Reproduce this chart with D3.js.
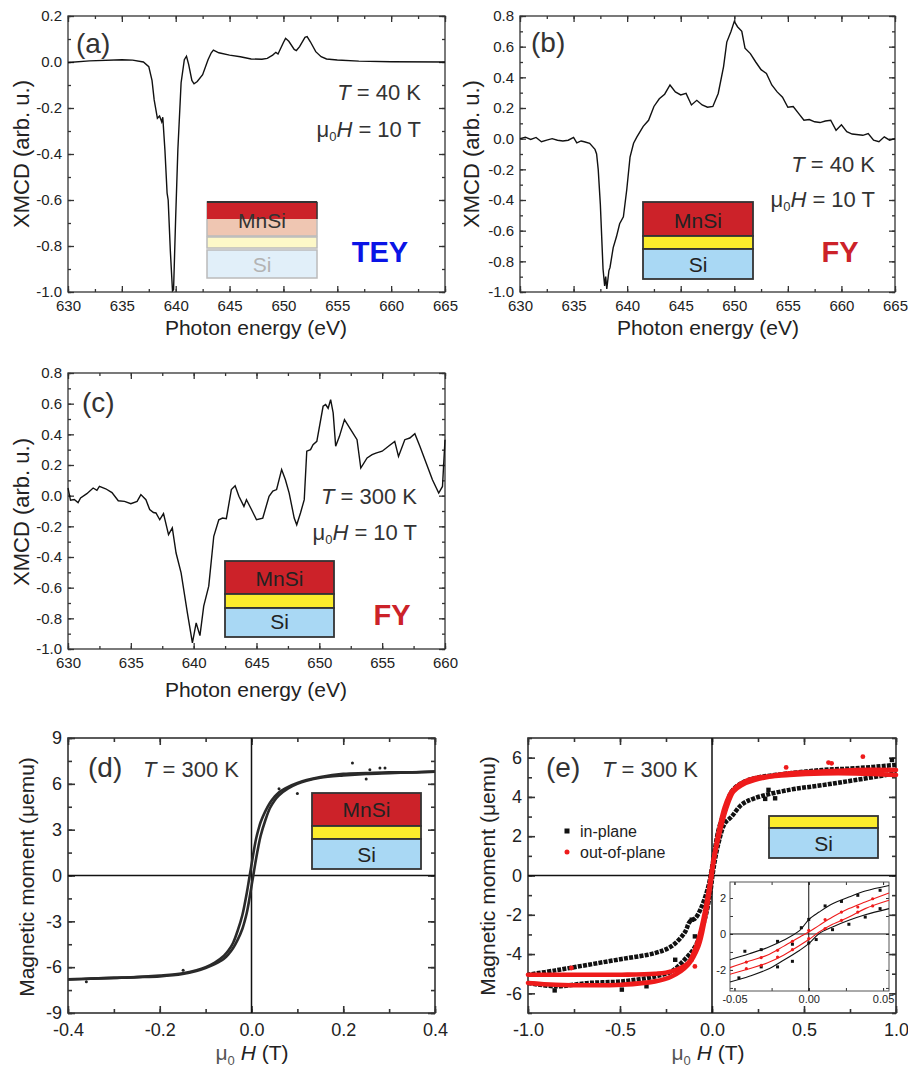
<!DOCTYPE html>
<html>
<head>
<meta charset="utf-8">
<script src="https://cdn.jsdelivr.net/npm/d3@7"></script>
<style>
  body { margin: 0; background: #fff; }
  text { font-family: "Liberation Sans", Arial, Helvetica, sans-serif; fill: #222; }
</style>
</head>
<body>
<svg id="fig" width="908" height="1068"></svg>
<script>
// ---- data ----
// (a) XMCD, TEY, 40 K  [energy eV, XMCD]
const specA = [[630,-0.002],[632,0.005],[635,0.01],[636,0.008],[637,0.0],[637.5,-0.02],[637.8,-0.08],[638,-0.165],
  [638.3,-0.245],[638.5,-0.235],[638.7,-0.26],[638.8,-0.24],[639,-0.385],[639.2,-0.57],[639.3,-0.6],[639.5,-0.82],
  [639.7,-0.995],[639.8,-0.99],[640,-0.67],[640.2,-0.38],[640.5,-0.09],[640.8,0.01],[641,0.025],[641.2,-0.01],
  [641.5,-0.08],[641.7,-0.095],[642,-0.085],[642.5,-0.055],[643,0.01],[643.3,0.04],[643.5,0.052],[644,0.04],
  [645,0.03],[646,0.023],[647,0.013],[648,0.012],[648.5,0.016],[649,0.03],[649.3,0.042],[649.5,0.035],[650,0.085],
  [650.2,0.103],[650.5,0.09],[651,0.055],[651.2,0.05],[651.5,0.067],[652,0.107],[652.2,0.11],[652.5,0.088],
  [653,0.045],[653.5,0.023],[654,0.013],[655,0.009],[657,0.004],[660,0.001],[665,0.0]];

// (b) XMCD, FY, 40 K
const specB = [[630,0],[630.5,0.01],[631,-0.005],[631.5,0.008],[632,-0.02],[632.5,-0.01],[633,0],[633.5,-0.01],
  [634,-0.015],[634.5,-0.01],[635,0.008],[635.3,-0.027],[635.7,-0.015],[636,-0.02],[636.5,-0.03],[637,-0.07],
  [637.15,-0.1],[637.3,-0.2],[637.5,-0.43],[637.75,-0.85],[637.9,-0.96],[638,-0.9],[638.1,-0.98],[638.3,-0.86],
  [638.4,-0.84],[638.7,-0.71],[639,-0.64],[639.3,-0.555],[639.65,-0.51],[639.96,-0.335],[640.27,-0.12],[640.6,-0.03],
  [640.9,0.01],[641.5,0.08],[642,0.12],[642.5,0.21],[643,0.26],[643.5,0.29],[644,0.35],[644.5,0.305],[645,0.285],
  [645.5,0.295],[646,0.22],[646.5,0.25],[647,0.22],[647.5,0.205],[648,0.21],[648.5,0.295],[649,0.47],[649.3,0.63],
  [649.7,0.7],[650,0.765],[650.3,0.73],[650.7,0.7],[651,0.59],[651.5,0.555],[652,0.5],[652.5,0.45],[653,0.425],
  [653.5,0.35],[654,0.305],[654.5,0.27],[655,0.205],[655.5,0.21],[656,0.165],[656.5,0.12],[657,0.125],[657.5,0.11],
  [658,0.105],[658.5,0.115],[659,0.12],[659.5,0.055],[660,0.09],[660.5,0.045],[661,0.03],[662,0.022],[662.5,0.033],
  [663,-0.01],[663.5,-0.02],[664,0.012],[664.5,-0.01],[665,0]];

// (c) XMCD, FY, 300 K
const specC = [[630,0.05],[630.2,-0.03],[630.5,-0.025],[630.8,-0.045],[631,-0.015],[631.5,0.013],[632,0.05],
  [632.3,0.035],[632.5,0.06],[633,0.045],[633.5,0.02],[634,-0.033],[634.5,-0.037],[635,-0.052],[635.5,-0.037],
  [635.8,0.007],[636.2,-0.026],[636.5,-0.09],[636.8,-0.11],[637,-0.113],[637.3,-0.157],[637.6,-0.117],[638,-0.254],
  [638.3,-0.21],[638.6,-0.374],[639,-0.504],[639.5,-0.765],[639.9,-0.96],[640.2,-0.83],[640.5,-0.913],[640.8,-0.72],
  [641.2,-0.59],[641.6,-0.265],[642,-0.157],[642.3,-0.146],[642.6,-0.15],[643,0.04],[643.3,0.065],[643.6,-0.004],
  [644,-0.07],[644.2,-0.026],[644.6,-0.09],[645,-0.157],[645.5,-0.146],[646,-0.004],[646.3,0.03],[646.6,0.04],
  [647,0.17],[647.3,0.104],[647.6,0.017],[648,-0.146],[648.2,-0.19],[648.5,-0.113],[648.8,-0.026],[649,0.29],
  [649.3,0.3],[649.5,0.333],[649.8,0.354],[650.3,0.583],[650.5,0.594],[650.7,0.57],[650.9,0.626],[651.1,0.54],
  [651.3,0.322],[651.6,0.387],[652,0.496],[652.5,0.43],[653,0.365],[653.3,0.18],[653.8,0.246],[654.2,0.267],
  [654.5,0.278],[655,0.29],[655.5,0.322],[656,0.354],[656.3,0.256],[656.8,0.365],[657.2,0.376],[657.6,0.404],
  [658,0.322],[658.5,0.213],[659,0.104],[659.5,0.017],[659.8,0.06],[660,0.365]];

// (d) M(H), 300 K  [field T, moment uemu]
const loopD_H = [-0.4,-0.35,-0.3,-0.25,-0.2,-0.15,-0.12,-0.1,-0.08,-0.06,-0.05,-0.04,-0.03,-0.02,-0.015,-0.01,-0.005,
  0,0.005,0.01,0.015,0.02,0.03,0.04,0.05,0.06,0.08,0.1,0.12,0.15,0.2,0.25,0.3,0.35,0.4];
const loopD_down = [-6.8,-6.75,-6.7,-6.65,-6.55,-6.4,-6.2,-6.0,-5.7,-5.25,-4.9,-4.4,-3.6,-2.6,-1.9,-1.1,-0.2,
  0.7,1.6,2.4,3.0,3.5,4.2,4.75,5.15,5.45,5.8,6.05,6.25,6.45,6.65,6.7,6.75,6.75,6.8];
const loopD_up = [-6.8,-6.75,-6.7,-6.65,-6.6,-6.45,-6.25,-6.05,-5.8,-5.45,-5.15,-4.75,-4.2,-3.5,-3.0,-2.4,-1.6,
  -0.7,0.2,1.1,1.9,2.6,3.6,4.4,4.9,5.25,5.7,6.0,6.2,6.4,6.55,6.65,6.7,6.75,6.8];
const strayD = [[0.22,7.36],[0.258,6.93],[0.28,7.04],[0.291,7.04],[0.25,6.32],[0.1,5.36],[0.06,5.68],[-0.149,-6.2],[-0.36,-6.95]];

// (e) M(H), 300 K, in-plane / out-of-plane branches
const inPlaneDown = [[1,5.63],[0.78,5.46],[0.6,5.37],[0.42,5.2],[0.23,4.95],[0.16,4.7],[0.107,4.27],[0.07,3.3],
  [0.035,2.3],[0,0.4],[-0.02,-0.56],[-0.056,-1.58],[-0.09,-2.17],[-0.12,-2.34],[-0.15,-2.93],[-0.22,-3.6],
  [-0.31,-3.95],[-0.49,-4.25],[-0.67,-4.54],[-0.85,-4.83],[-1,-5.05]];
const inPlaneUp = [[-1,-5.47],[-0.85,-5.64],[-0.67,-5.47],[-0.49,-5.39],[-0.31,-5.14],[-0.22,-4.88],[-0.15,-4.29],
  [-0.09,-3.6],[-0.04,-2.25],[-0.01,-0.9],[0.007,0.29],[0.035,1.64],[0.07,2.66],[0.107,3.0],[0.16,3.6],[0.23,3.93],
  [0.42,4.36],[0.6,4.6],[0.78,4.86],[1,5.2]];
const outPlaneDown = [[1,5.37],[0.78,5.37],[0.6,5.29],[0.42,5.2],[0.23,4.86],[0.16,4.6],[0.116,4.27],[0.08,3.5],
  [0.044,2.3],[0.016,1.14],[0,0.29],[-0.02,-0.9],[-0.047,-2.25],[-0.074,-3.27],[-0.1,-3.95],[-0.13,-4.46],
  [-0.22,-4.88],[-0.31,-5.0],[-0.49,-5.05],[-0.67,-5.05],[-0.85,-5.05],[-1,-5.05]];
const outPlaneUp = [[-1,-5.47],[-0.85,-5.56],[-0.67,-5.59],[-0.49,-5.56],[-0.31,-5.39],[-0.22,-5.14],[-0.13,-4.54],
  [-0.074,-3.6],[-0.04,-2.25],[-0.01,-0.56],[0.007,0.63],[0.035,2.15],[0.07,3.5],[0.107,4.27],[0.16,4.7],[0.23,4.95],
  [0.42,5.12],[0.6,5.2],[0.78,5.2],[1,5.12]];
const strayInPlane = [[-0.49,-5.81],[-0.855,-5.85],[-0.356,-5.64],[0.289,3.9],[0.343,3.93],[0.307,4.36],[0.978,5.88],
  [-0.11,-2.25],[-0.093,-3.1],[-0.2,-4.29]];
const strayOutPlane = [[0.82,6.05],[0.65,5.71],[0.633,5.75],[0.403,5.5],[-0.11,-4.29],[-0.093,-4.63],[-0.764,-4.71]];

// (e) inset, low-field zoom
const insetH = [-0.053,-0.040,-0.028,-0.017,-0.006,0,0.007,0.016,0.027,0.038,0.054];
const insetInUpper = [-1.43,-1.1,-0.76,-0.35,0.2,0.8,1.22,1.68,2.05,2.39,2.7];
const insetInLower = [-2.67,-2.35,-1.98,-1.46,-0.9,-0.54,0.02,0.39,0.76,1.07,1.41];
const insetOutUpper = [-1.87,-1.5,-1.18,-0.69,-0.17,0.11,0.48,0.94,1.41,1.78,2.28];
const insetOutLower = [-2.24,-1.93,-1.61,-1.18,-0.63,-0.31,0.11,0.54,0.94,1.41,1.87];
const insetInPts = [[-0.043,-0.96],[-0.032,-0.87],[-0.021,-0.41],[-0.011,-0.57],[-0.005,0.35],[0,0.81],[0.011,1.56],
  [0.022,1.81],[0.033,2.15],[0.048,2.43],[-0.047,-2.44],[-0.032,-1.83],[-0.021,-1.83],[-0.011,-1.52],[0,-0.5],
  [0.005,-0.31],[0.016,0.24],[0.027,0.54],[0.038,0.94],[0.048,1.41]];
const insetOutPts = [[-0.042,-1.56],[-0.032,-1.31],[-0.021,-0.91],[-0.011,-0.41],[0,0.2],[0.011,0.8],[0.022,1.22],
  [0.033,1.5],[0.043,1.96],[-0.042,-1.93],[-0.032,-1.74],[-0.021,-1.28],[-0.011,-0.87],[0,-0.26],[0.011,0.3],
  [0.022,0.76],[0.033,1.22],[0.043,1.56]];

// tick values
const eTicks65 = [630,635,640,645,650,655,660,665];
const eMinor65 = [630,632.5,635,637.5,640,642.5,645,647.5,650,652.5,655,657.5,660,662.5,665];
const eTicks60 = [630,635,640,645,650,655,660];
const eMinor60 = [630,632.5,635,637.5,640,642.5,645,647.5,650,652.5,655,657.5,660];
const xmcdTicksA = [-1,-0.8,-0.6,-0.4,-0.2,0,0.2];
const xmcdMinorA = [-1,-0.9,-0.8,-0.7,-0.6,-0.5,-0.4,-0.3,-0.2,-0.1,0,0.1,0.2];
const xmcdTicksB = [-1,-0.8,-0.6,-0.4,-0.2,0,0.2,0.4,0.6,0.8];
const xmcdMinorB = [-1,-0.9,-0.8,-0.7,-0.6,-0.5,-0.4,-0.3,-0.2,-0.1,0,0.1,0.2,0.3,0.4,0.5,0.6,0.7,0.8];
const hTicksD = [-0.4,-0.2,0,0.2,0.4];
const hMinorD = [-0.4,-0.3,-0.2,-0.1,0,0.1,0.2,0.3,0.4];
const mTicksD = [-9,-6,-3,0,3,6,9];
const mMinorD = [-9,-7.5,-6,-4.5,-3,-1.5,0,1.5,3,4.5,6,7.5,9];
const hTicksE = [-1,-0.5,0,0.5,1];
const hMinorE = [-1,-0.75,-0.5,-0.25,0,0.25,0.5,0.75,1];
const mTicksE = [-6,-4,-2,0,2,4,6];
const mMinorE = [-7,-6,-5,-4,-3,-2,-1,0,1,2,3,4,5,6,7];
const insetHTicks = [-0.05,0,0.05];
const insetHMinor = [-0.05,-0.025,0,0.025,0.05];
const insetMTicks = [-2,0,2];
const insetMMinor = [-3,-2,-1,0,1,2];

// ---- drawing ----
const svg = d3.select('#fig');
const FONT = '"Liberation Sans", Arial, Helvetica, sans-serif';
const RED = '#cc2229', YEL = '#fcec2c', BLUE = '#a9d8f4', ERED = '#ee1b1b';

function makePanel(p) {
  const g = svg.append('g').attr('transform', `translate(${p.left},${p.top})`);
  const x = d3.scaleLinear().domain(p.xd).range([0, p.w]);
  const y = d3.scaleLinear().domain(p.yd).range([p.h, 0]);
  if (p.bg) g.append('rect').attr('width', p.w).attr('height', p.h).attr('fill', '#fff');
  const sides = [
    [d3.axisBottom, x, 0, p.h, p.xMaj, p.xMin, p.xFmt, p.xPad],
    [d3.axisTop, x, 0, 0, p.xMaj, p.xMin, null, 3],
    [d3.axisLeft, y, 0, 0, p.yMaj, p.yMin, p.yFmt, p.yPad],
    [d3.axisRight, y, p.w, 0, p.yMaj, p.yMin, null, 3]
  ];
  sides.forEach(([mk, sc, tx, ty, maj, min, fmt, pad]) => {
    g.append('g').attr('transform', `translate(${tx},${ty})`)
      .call(mk(sc).tickValues(min).tickSize(-p.minLen).tickFormat(''))
      .call(s => s.select('.domain').remove());
    g.append('g').attr('transform', `translate(${tx},${ty})`)
      .call(mk(sc).tickValues(maj).tickSize(-p.majLen).tickPadding(pad).tickFormat(fmt || (() => '')))
      .attr('font-size', p.fs).attr('font-family', FONT)
      .call(s => s.select('.domain').remove())
      .call(s => s.selectAll('text').style('fill', '#222'));
  });
  g.selectAll('.tick line').attr('stroke', '#333').attr('stroke-width', p.sw);
  g.append('rect').attr('width', p.w).attr('height', p.h)
    .attr('fill', 'none').attr('stroke', p.frame || '#333').attr('stroke-width', p.sw);
  return { g, x, y };
}

function label(x, y, str, size, opts = {}) {
  const t = svg.append('text').attr('x', x).attr('y', y).attr('font-size', size)
    .attr('text-anchor', opts.anchor || 'start');
  if (opts.fill) t.style('fill', opts.fill);
  if (opts.bold) t.attr('font-weight', 'bold');
  if (opts.rotate) t.attr('transform', `rotate(-90,${x},${y})`);
  t.text(str);
  return t;
}

// "T = 40 K" style with italic T
function tempLabel(x, y, rest, anchor) {
  const t = svg.append('text').attr('x', x).attr('y', y).attr('font-size', 22)
    .attr('text-anchor', anchor).style('fill', '#333');
  t.append('tspan').attr('font-style', 'italic').text('T');
  t.append('tspan').text(rest);
}
function fieldLabel(x, y, rest, anchor) {
  const t = svg.append('text').attr('x', x).attr('y', y).attr('font-size', 22)
    .attr('text-anchor', anchor).style('fill', '#333');
  t.append('tspan').text('μ');
  t.append('tspan').attr('font-size', 13).attr('dy', 4).text('0');
  t.append('tspan').attr('dy', -4).attr('font-style', 'italic').text('H');
  t.append('tspan').text(rest);
}
function muHLabel(cx, y) {
  const t = svg.append('text').attr('x', cx).attr('y', y).attr('font-size', 21)
    .attr('text-anchor', 'middle');
  t.append('tspan').style('fill', '#555').text('μ');
  t.append('tspan').attr('font-size', 13).attr('dy', 5).style('fill', '#555').text('0');
  t.append('tspan').attr('dy', -5).text(' ');
  t.append('tspan').attr('font-style', 'italic').text('H');
  t.append('tspan').text(' (T)');
}

// layer sketch: layers top to bottom
function stack(x0, y0, w, layers, stroke, sw) {
  let yy = y0;
  layers.forEach(l => {
    svg.append('rect').attr('x', x0).attr('y', yy).attr('width', w).attr('height', l.h)
      .attr('fill', l.fill).attr('stroke', stroke).attr('stroke-width', sw);
    yy += l.h + (l.gap || 0);
  });
}

const lineXY = (x, y) => d3.line().x(d => x(d[0])).y(d => y(d[1]));
const fmt1 = d => d.toFixed(1);

// ---------- (a) ----------
const base = { fs: 15, majLen: 6, minLen: 3, xPad: 8, yPad: 6, sw: 1.3 };
const A = makePanel({ ...base, left: 68, top: 16, w: 377, h: 276, xd: [630, 665], yd: [-1, 0.2],
  xMaj: eTicks65, xMin: eMinor65, yMaj: xmcdTicksA, yMin: xmcdMinorA, xFmt: d => d, yFmt: fmt1 });
A.g.append('path').datum(specA).attr('d', lineXY(A.x, A.y))
  .attr('fill', 'none').attr('stroke', '#111').attr('stroke-width', 1.4);
label(76, 53, '(a)', 28, { fill: '#333' });
tempLabel(421, 100, ' = 40 K', 'end');
fieldLabel(421, 137, ' = 10 T', 'end');
// faded layer sketch (TEY probing depth)
svg.append('rect').attr('x', 207).attr('y', 202).attr('width', 110).attr('height', 34)
  .attr('fill', '#efc6b2').attr('stroke', '#bbb').attr('stroke-width', 1.5);
svg.append('rect').attr('x', 207).attr('y', 202).attr('width', 110).attr('height', 17).attr('fill', RED);
svg.append('line').attr('x1', 207).attr('x2', 317).attr('y1', 202).attr('y2', 202)
  .attr('stroke', '#333').attr('stroke-width', 1.8);
svg.append('line').attr('x1', 317).attr('x2', 317).attr('y1', 202).attr('y2', 219)
  .attr('stroke', '#333').attr('stroke-width', 1.5);
stack(207, 237, 110, [{ h: 11, fill: '#fdf8c8', gap: 2 }, { h: 28, fill: '#e1eff9' }], '#bbb', 1.5);
label(262, 228, 'MnSi', 21, { anchor: 'middle', fill: '#333' });
label(262, 272, 'Si', 21, { anchor: 'middle', fill: '#b3b3b3' });
label(380, 262, 'TEY', 29, { anchor: 'middle', bold: true, fill: '#0a14e6' });
label(29, 154, 'XMCD (arb. u.)', 22, { anchor: 'middle', rotate: true });
label(256, 335, 'Photon energy (eV)', 21, { anchor: 'middle' });

// ---------- (b) ----------
const B = makePanel({ ...base, left: 520, top: 16, w: 375, h: 276, xd: [630, 665], yd: [-1, 0.8],
  xMaj: eTicks65, xMin: eMinor65, yMaj: xmcdTicksB, yMin: xmcdMinorB, xFmt: d => d, yFmt: fmt1 });
B.g.append('path').datum(specB).attr('d', lineXY(B.x, B.y))
  .attr('fill', 'none').attr('stroke', '#111').attr('stroke-width', 1.4);
label(531, 52, '(b)', 28, { fill: '#333' });
tempLabel(875, 172, ' = 40 K', 'end');
fieldLabel(875, 207, ' = 10 T', 'end');
stack(643, 202, 110, [{ h: 34, fill: RED }, { h: 13, fill: YEL }, { h: 30, fill: BLUE }], '#333', 1.8);
label(698, 228, 'MnSi', 21, { anchor: 'middle', fill: '#222' });
label(698, 272, 'Si', 21, { anchor: 'middle', fill: '#222' });
label(840, 262, 'FY', 29, { anchor: 'middle', bold: true, fill: RED });
label(479, 154, 'XMCD (arb. u.)', 22, { anchor: 'middle', rotate: true });
label(708, 335, 'Photon energy (eV)', 21, { anchor: 'middle' });

// ---------- (c) ----------
const C = makePanel({ ...base, left: 68, top: 373, w: 377, h: 276, xd: [630, 660], yd: [-1, 0.8],
  xMaj: eTicks60, xMin: eMinor60, yMaj: xmcdTicksB, yMin: xmcdMinorB, xFmt: d => d, yFmt: fmt1 });
C.g.append('path').datum(specC).attr('d', lineXY(C.x, C.y))
  .attr('fill', 'none').attr('stroke', '#111').attr('stroke-width', 1.4);
label(82, 412, '(c)', 28, { fill: '#333' });
tempLabel(417, 504, ' = 300 K', 'end');
fieldLabel(417, 540, ' = 10 T', 'end');
stack(225, 561, 109, [{ h: 33, fill: RED }, { h: 14, fill: YEL }, { h: 29, fill: BLUE }], '#333', 1.8);
label(279.5, 586, 'MnSi', 21, { anchor: 'middle', fill: '#222' });
label(279.5, 629, 'Si', 21, { anchor: 'middle', fill: '#222' });
label(392, 625, 'FY', 29, { anchor: 'middle', bold: true, fill: RED });
label(29, 512, 'XMCD (arb. u.)', 22, { anchor: 'middle', rotate: true });
label(256, 697, 'Photon energy (eV)', 21, { anchor: 'middle' });

// ---------- (d) ----------
const baseM = { fs: 18, majLen: 7, minLen: 4, xPad: 10, yPad: 6, sw: 1.6 };
const D = makePanel({ ...baseM, left: 68, top: 738, w: 367, h: 275, xd: [-0.4, 0.4], yd: [-9, 9],
  xMaj: hTicksD, xMin: hMinorD, yMaj: mTicksD, yMin: mMinorD, xFmt: fmt1, yFmt: d => d });
D.g.append('line').attr('x1', D.x(0)).attr('x2', D.x(0)).attr('y1', 0).attr('y2', 275)
  .attr('stroke', '#111').attr('stroke-width', 1.5);
D.g.append('line').attr('x1', 0).attr('x2', 367).attr('y1', D.y(0)).attr('y2', D.y(0))
  .attr('stroke', '#111').attr('stroke-width', 1.5);
const loopLine = d3.line().x((d, i) => D.x(loopD_H[i])).y(d => D.y(d)).curve(d3.curveCatmullRom);
[loopD_down, loopD_up].forEach(br => {
  D.g.append('path').datum(br).attr('d', loopLine)
    .attr('fill', 'none').attr('stroke', '#2a2a2a').attr('stroke-width', 2.6);
});
D.g.selectAll('circle.stray').data(strayD).join('circle').attr('class', 'stray')
  .attr('cx', d => D.x(d[0])).attr('cy', d => D.y(d[1])).attr('r', 1.5).attr('fill', '#222');
label(88, 777, '(d)', 28, { fill: '#333' });
tempLabel(143, 777, ' = 300 K', 'start');
stack(312, 793, 109, [{ h: 33, fill: RED }, { h: 13, fill: YEL }, { h: 30, fill: BLUE }], '#333', 1.8);
label(366.5, 817, 'MnSi', 21, { anchor: 'middle', fill: '#222' });
label(366.5, 862, 'Si', 21, { anchor: 'middle', fill: '#222' });
label(34, 877, 'Magnetic moment (μemu)', 21, { anchor: 'middle', rotate: true });
muHLabel(252, 1060);

// ---------- (e) ----------
const E = makePanel({ ...baseM, left: 528, top: 738, w: 368, h: 275, xd: [-1, 1], yd: [-7, 7],
  xMaj: hTicksE, xMin: hMinorE, yMaj: mTicksE, yMin: mMinorE, xFmt: fmt1, yFmt: d => d });
E.g.append('line').attr('x1', E.x(0)).attr('x2', E.x(0)).attr('y1', 0).attr('y2', 275)
  .attr('stroke', '#111').attr('stroke-width', 1.5);
E.g.append('line').attr('x1', 0).attr('x2', 368).attr('y1', E.y(0)).attr('y2', E.y(0))
  .attr('stroke', '#111').attr('stroke-width', 1.5);
const eLine = lineXY(E.x, E.y).curve(d3.curveCatmullRom);
[inPlaneDown, inPlaneUp].forEach(br => {
  E.g.append('path').datum(br).attr('d', eLine).attr('fill', 'none')
    .attr('stroke', '#111').attr('stroke-width', 4.5).attr('stroke-dasharray', '4,1.2');
});
E.g.selectAll('rect.sin').data(strayInPlane).join('rect').attr('class', 'sin')
  .attr('x', d => E.x(d[0]) - 2.2).attr('y', d => E.y(d[1]) - 2.2).attr('width', 4.4).attr('height', 4.4).attr('fill', '#111');
[outPlaneDown, outPlaneUp].forEach(br => {
  E.g.append('path').datum(br).attr('d', eLine).attr('fill', 'none')
    .attr('stroke', ERED).attr('stroke-width', 4.6).attr('stroke-linecap', 'round');
});
E.g.selectAll('circle.sout').data(strayOutPlane).join('circle').attr('class', 'sout')
  .attr('cx', d => E.x(d[0])).attr('cy', d => E.y(d[1])).attr('r', 2.4).attr('fill', ERED);
label(546, 777, '(e)', 28, { fill: '#333' });
tempLabel(602, 777, ' = 300 K', 'start');
stack(769, 816, 109, [{ h: 12, fill: YEL }, { h: 30, fill: BLUE }], '#333', 1.8);
label(823.5, 851, 'Si', 21, { anchor: 'middle', fill: '#222' });
// legend
svg.append('rect').attr('x', 564.5).attr('y', 828.5).attr('width', 5).attr('height', 5).attr('fill', '#111');
svg.append('circle').attr('cx', 567).attr('cy', 852).attr('r', 2.5).attr('fill', ERED);
label(580, 837, 'in-plane', 16, { fill: '#222' });
label(580, 858, 'out-of-plane', 16, { fill: '#222' });
label(495, 876, 'Magnetic moment (μemu)', 21, { anchor: 'middle', rotate: true });
muHLabel(708, 1060);

// inset of (e)
const I = makePanel({ fs: 11, majLen: 3, minLen: 3, xPad: 4, yPad: 4, sw: 1, frame: '#555', bg: true,
  left: 730, top: 882, w: 159, h: 109, xd: [-0.053, 0.054], yd: [-3.17, 2.89],
  xMaj: insetHTicks, xMin: insetHMinor, yMaj: insetMTicks, yMin: insetMMinor,
  xFmt: d => d.toFixed(2), yFmt: d => d });
I.g.append('line').attr('x1', I.x(0)).attr('x2', I.x(0)).attr('y1', 0).attr('y2', 109)
  .attr('stroke', '#111').attr('stroke-width', 1);
I.g.append('line').attr('x1', 0).attr('x2', 159).attr('y1', I.y(0)).attr('y2', I.y(0))
  .attr('stroke', '#111').attr('stroke-width', 1);
const iLine = d3.line().x((d, i) => I.x(insetH[i])).y(d => I.y(d)).curve(d3.curveCatmullRom);
[[insetInUpper, '#111'], [insetInLower, '#111'], [insetOutUpper, ERED], [insetOutLower, ERED]].forEach(([br, c]) => {
  I.g.append('path').datum(br).attr('d', iLine).attr('fill', 'none').attr('stroke', c).attr('stroke-width', 1.1);
});
I.g.selectAll('rect.ip').data(insetInPts).join('rect').attr('class', 'ip')
  .attr('x', d => I.x(d[0]) - 1.5).attr('y', d => I.y(d[1]) - 1.5).attr('width', 3).attr('height', 3).attr('fill', '#111');
I.g.selectAll('circle.op').data(insetOutPts).join('circle').attr('class', 'op')
  .attr('cx', d => I.x(d[0])).attr('cy', d => I.y(d[1])).attr('r', 1.6).attr('fill', ERED);
</script>
</body>
</html>
